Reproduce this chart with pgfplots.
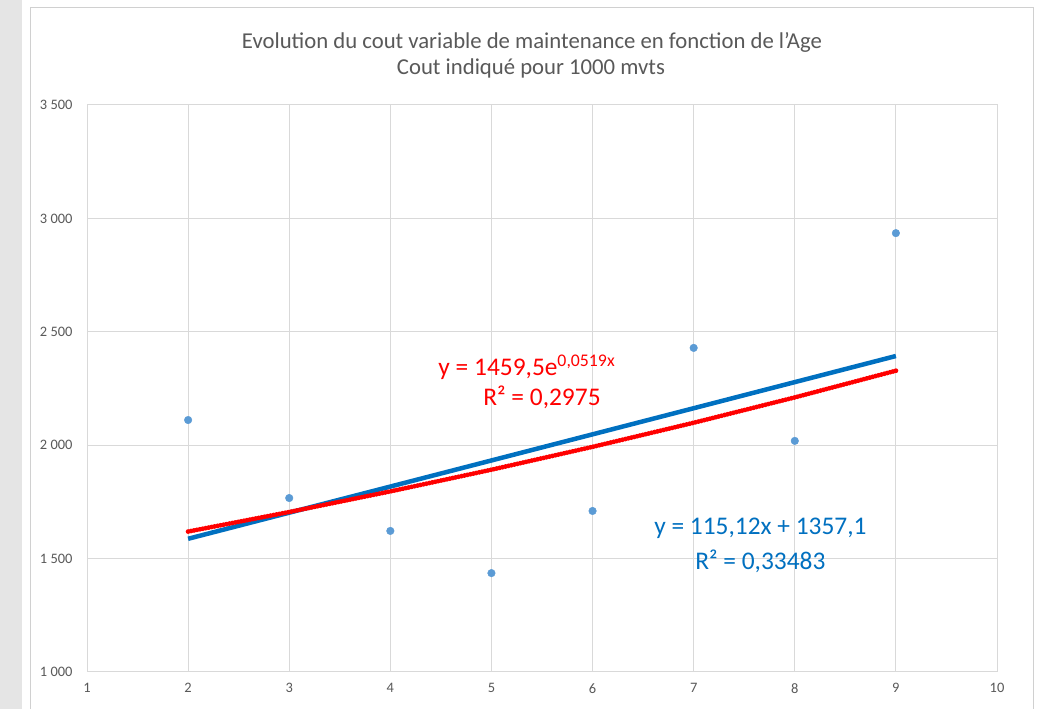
\documentclass[border=0pt]{standalone}
\usepackage{pgfplots}
\pgfplotsset{compat=1.18}
\usepackage{fontspec}
\setmainfont{Carlito}
\definecolor{txtgray}{HTML}{595959}
\definecolor{gridgray}{HTML}{D9D9D9}
\definecolor{ptblue}{HTML}{5B9BD5}
\definecolor{lineblue}{HTML}{0070C0}
\definecolor{bordergray}{HTML}{D0D0D0}
\newcommand\tl{\fontsize{14.5}{16}\selectfont\color{txtgray}}
\begin{document}
\begin{tikzpicture}[x=1bp,y=1bp]
\useasboundingbox (0,0) rectangle (1043,709);
\fill[white] (0,0) rectangle (1043,709);
\fill[black!10] (0,0) rectangle (22,709);
\draw[bordergray, line width=1bp] (30,-5) -- (30,701) -- (1033,701) -- (1033,-5);
\begin{axis}[
  at={(87bp,37bp)}, anchor=south west,
  scale only axis, width=910bp, height=567bp,
  xmin=1, xmax=10, ymin=1000, ymax=3500,
  xtick={1,2,...,10},
  xticklabels={{\tl 1},{\tl 2},{\tl 3},{\tl 4},{\tl 5},{\tl 6},{\tl 7},{\tl 8},{\tl 9},{\tl 10}},
  ytick={1000,1500,2000,2500,3000,3500},
  yticklabels={{\tl 1 000},{\tl 1 500},{\tl 2 000},{\tl 2 500},{\tl 3 000},{\tl 3 500}},
  grid=major,
  major grid style={gridgray, line width=1bp},
  axis line style={gridgray, line width=1bp},
  tick style={draw=none},
  xticklabel style={yshift=-8bp},
  yticklabel style={xshift=-11bp},
  clip=false,
]
\addplot[only marks, mark=*, mark size=3.8bp, mark options={draw=ptblue, fill=ptblue}] coordinates {
  (2,2111) (3,1767) (4,1622) (5,1436) (6,1710) (7,2429) (8,2019) (9,2935)
};
\addplot[lineblue, line width=4.5bp] coordinates {(2,1587.34) (9,2393.18)};
\addplot[red, line width=4.8bp, line cap=round, dash pattern=on 0pt off 3bp] coordinates {
  (2,1619.2) (3,1705.4) (4,1796.2) (5,1891.9) (6,1992.7) (7,2098.9) (8,2210.7) (9,2328.4)
};
\node[text=red, font=\fontsize{25.5}{28}\selectfont] at (axis cs:5.35,2345) {y = 1459,5e\textsuperscript{0,0519x}};
\node[text=red, font=\fontsize{25.5}{28}\selectfont] at (axis cs:5.50,2213) {R² = 0,2975};
\node[text=lineblue, font=\fontsize{25.5}{28}\selectfont] at (axis cs:7.66,1634) {y = 115,12x + 1357,1};
\node[text=lineblue, font=\fontsize{25.5}{28}\selectfont] at (axis cs:7.66,1489) {R² = 0,33483};
\end{axis}
\node[text=txtgray, font=\fontsize{22.8}{26}\selectfont] at (532,667) {Evolution du cout variable de maintenance en fonction de l'Age};
\node[text=txtgray, font=\fontsize{22.8}{26}\selectfont] at (531,641) {Cout indiqué pour 1000 mvts};
\end{tikzpicture}
\end{document}
